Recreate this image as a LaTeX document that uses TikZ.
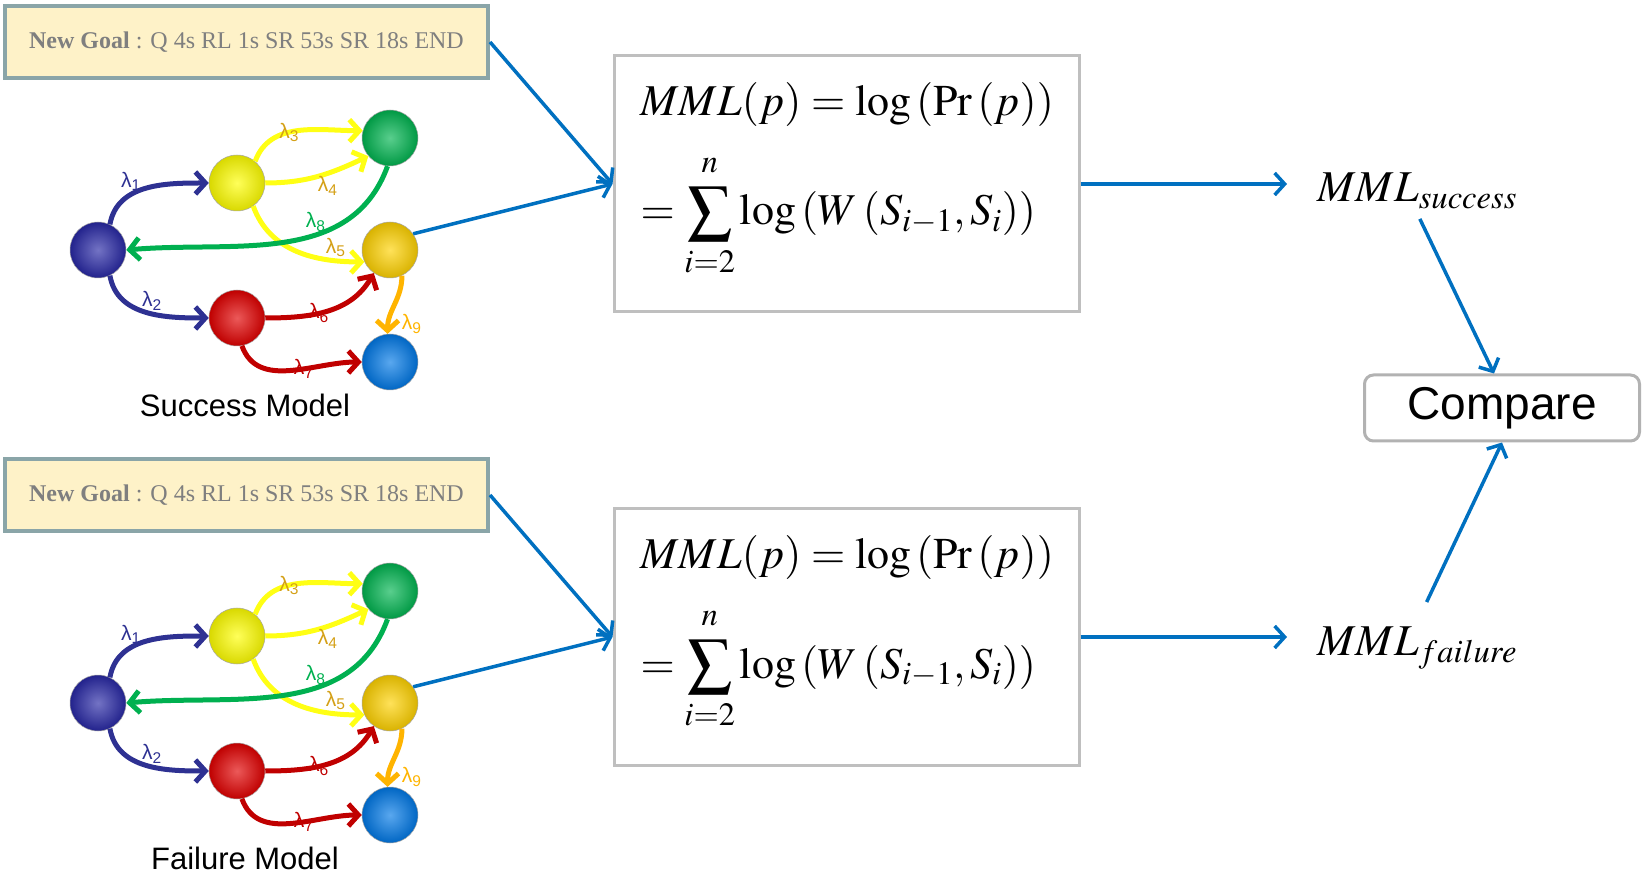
\documentclass[tikz,border=0pt]{standalone}
\usepackage[no-math]{fontspec}
\usepackage{mathptmx}
\setmainfont{Liberation Serif}
\newfontfamily\arialfont{Liberation Sans}
\usetikzlibrary{arrows.meta, positioning}

\definecolor{goalfill}{RGB}{254,242,200}
\definecolor{goalline}{RGB}{138,165,168}
\definecolor{goaltext}{RGB}{127,127,127}
\definecolor{boxline}{RGB}{191,191,191}
\definecolor{cmpline}{RGB}{178,178,178}
\definecolor{flowblue}{RGB}{0,112,192}
\definecolor{lamblue}{RGB}{46,49,146}
\definecolor{lamyellow}{RGB}{255,255,20}
\definecolor{lamgold}{RGB}{212,160,23}
\definecolor{lamred}{RGB}{192,0,0}
\definecolor{lamgreen}{RGB}{0,176,80}
\definecolor{lamorange}{RGB}{255,180,0}
\definecolor{ballblue}{RGB}{40,40,165}
\definecolor{ballyellow}{RGB}{255,255,0}
\definecolor{ballgreen}{RGB}{0,180,80}
\definecolor{ballgold}{RGB}{255,210,0}
\definecolor{ballred}{RGB}{225,0,0}
\definecolor{balllight}{RGB}{0,120,230}

\begin{document}
\begin{tikzpicture}[x=1pt,y=1pt,->,>={Straight Barb[length=10pt,width=22pt]},line width=5pt]

	\tikzset{goal box/.style={draw=goalline, fill=goalfill, line width=4pt,
			minimum width=483pt, minimum height=72pt,
			text=goaltext, font=\fontsize{24}{28}\selectfont}}
	\tikzset{mml box/.style={draw=boxline, line width=3pt,
			minimum width=465pt, minimum height=256pt}}
	\tikzset{ball st/.style={circle, minimum size=56pt, inner sep=0pt,
			draw=black!35, line width=0.5pt,
			inner color=#1!65!white, outer color=#1!85!black}}
	\tikzset{flow/.style={flowblue, line width=3.5pt}}
	\tikzset{lam/.style={font=\arialfont\fontsize{21}{22}\selectfont, inner sep=1pt}}
	\tikzset{big math/.style={anchor=base west, inner sep=2pt,
			font=\fontsize{44}{50}\selectfont}}

	\useasboundingbox (0,0) rectangle (1646,876);

	\foreach \m/\dy/\title/\kind in {A/0/Success/success, B/-453/Failure/failure} {
	\begin{scope}[shift={(0,\dy)}]
		\node[goal box] (G\m) at (246.5,834) {\textbf{New Goal} : Q 4s RL 1s SR 53s SR 18s END};
		\node[mml box] (F\m) at (846.5,692) {};
		\node[big math] (P\m) at (636,760) {$MML(p)=\log\left(\Pr\left(p\right)\right)$};
		\node[big math] (S\m) at (636,651) {$=\displaystyle\sum_{\raisebox{-5pt}{$\scriptstyle i=2$}}^{\raisebox{5pt}{$\scriptstyle n$}}\log\left(W\left(S_{i-1},S_{i}\right)\right)$};
		\node[big math] (M\m) at (1313,674) {$MML_{\kind}$};

		% model states
		\node[ball st=ballblue] (\m0) at (98,626) {};
		\node[ball st=ballyellow] (\m1) at (237,693) {};
		\node[ball st=ballred] (\m2) at (237,558) {};
		\node[ball st=ballgreen] (\m3) at (390,738) {};
		\node[ball st=ballgold] (\m4) at (390,626) {};
		\node[ball st=balllight] (\m5) at (390,514) {};
		\node[font=\arialfont\fontsize{31}{34}\selectfont] (T\m) at (245,471) {\title{} Model};

		\draw[lamblue] (\m0.65) to[out=80,in=180] node[lam, above, pos=0.35, text=lamblue] {λ\textsubscript{1}} (\m1.west);
		\draw[lamblue] (\m0.-65) to[out=-80,in=180] node[lam, above, pos=0.55, text=lamblue] {λ\textsubscript{2}} (\m2.west);
		\draw[lamyellow] (\m1.50) to[out=70,in=180] node[lam, pos=0.42, text=lamgold] {λ\textsubscript{3}} (\m3.165);
		\draw[lamyellow] (\m1.east) to[out=0,in=205] node[lam, below, pos=0.6, text=lamgold] {λ\textsubscript{4}} (\m3.220);
		\draw[lamyellow] (\m1.-55) to[out=-70,in=180] node[lam, above, pos=0.8, text=lamgold] {λ\textsubscript{5}} (\m4.205);
		\draw[lamred] (\m2.east) to[out=0,in=240] node[lam, pos=0.42, text=lamred] {λ\textsubscript{6}} (\m4.235);
		\draw[lamred] (\m2.-80) to[out=-70,in=180] node[lam, pos=0.6, text=lamred] {λ\textsubscript{7}} (\m5.west);
		\draw[lamgreen] (\m3.-95) to[out=-110,in=5] node[lam, above, pos=0.38, text=lamgreen] {λ\textsubscript{8}} (\m0.east);
		\draw[lamorange] (\m4.-65) to[out=-90,in=90] node[lam, right=10pt, pos=0.85, text=lamorange] {λ\textsubscript{9}} (\m5.95);

		\draw[flow] (G\m.east) -- (F\m.west);
		\draw[flow] (\m4.35) -- (F\m.west);
		\draw[flow, shorten >=26pt] (F\m.east) -- (F\m.east -| M\m.west);
	\end{scope}
	}

	\node[draw=cmpline, rounded corners=9pt, line width=3pt, minimum width=275pt,
		minimum height=66pt, font=\arialfont\fontsize{46}{50}\selectfont] (C) at (1502,468) {Compare};
	\draw[flow, shorten <=6pt] (MA.south) -- ([xshift=-8pt]C.north);
	\draw[flow, shorten <=22pt] (MB.north) -- (C.south);

\end{tikzpicture}
\end{document}
